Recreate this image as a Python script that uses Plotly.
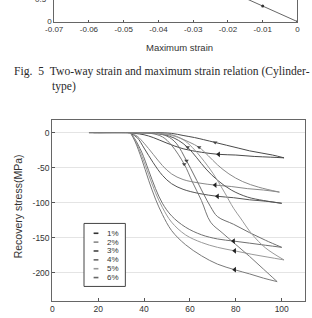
import plotly.graph_objects as go

W, H = 312, 318

# ---------------- data: partial upper figure (Fig. 5) ----------------
top_max_strain = [0.0, -0.01, -0.02, -0.03]
top_two_way = [0.0, 0.36, 0.72, 1.08]
top_xticks = [-0.07, -0.06, -0.05, -0.04, -0.03, -0.02, -0.01, 0.0]
top_xticktext = ["-0.07", "-0.06", "-0.05", "-0.04", "-0.03", "-0.02", "-0.01", "0"]
top_yticks = [0.0]
top_yticktext = ["0"]
top_cut_label = "0.5"

# ---------------- data: recovery stress vs temperature ----------------
strain_labels = ["1%", "2%", "3%", "4%", "5%", "6%"]

heat_T = [
    [16, 30, 45, 52, 57, 62, 66, 71, 76, 81, 86, 91, 96, 101],
    [20, 35, 45, 52, 56, 60, 64, 68, 72, 77, 83, 90, 99],
    [18, 35, 45, 51, 55, 59, 63, 67, 72, 78, 85, 92, 100],
    [18, 35, 45, 50, 54, 58.5, 62, 66, 69, 72, 79, 86, 93, 100],
    [16, 35, 46, 52, 57, 61, 65, 70, 75, 79, 82, 87, 93, 101],
    [16, 35, 43, 48, 52, 57.5, 61, 65, 69, 74, 80, 86, 92, 98],
]
heat_S = [
    [0, 0, 0, -1, -4, -7, -10, -14, -18, -22, -26, -29, -32, -36],
    [0, 0, -1, -3, -8, -14, -21, -33, -46, -59, -70, -78, -85],
    [0, 0, -1, -5, -11, -21, -36, -52, -68, -82, -92, -97, -101],
    [0, 0, -1, -5, -15, -40, -62, -88, -106, -120, -131, -143, -154, -164],
    [0, 0, -1, -4, -10, -21, -36, -58, -85, -108, -122, -145, -165, -182],
    [0, 0, -1, -6, -18, -45, -70, -97, -128, -143, -160, -177, -195, -213],
]
cool_T = [
    [101, 95, 88, 80, 72.5, 65, 57, 50, 44, 40, 36, 33],
    [99, 92, 85, 78, 71, 64, 57, 52, 48, 44, 40, 37, 34],
    [100, 93, 86, 79, 72, 64, 57, 52, 48, 44, 40, 37, 34],
    [100, 93, 86, 79, 72, 65, 58, 52, 48, 45, 42, 39, 36, 34],
    [101, 94, 87, 79.5, 72, 65, 58, 52, 48, 45, 42, 39, 36, 34],
    [98, 92, 86, 79.5, 72, 65, 58, 52, 48, 45, 42, 39, 36, 34],
]
cool_S = [
    [-36, -35, -34, -32, -31, -28, -23, -15, -7, -3, -1, 0],
    [-85, -82, -80, -77, -75, -72, -67, -59, -47, -31, -15, -5, 0],
    [-101, -98, -96, -93, -91, -87, -81, -73, -61, -43, -22, -7, -1],
    [-164, -161, -158, -155, -152, -146, -135, -119, -101, -80, -54, -28, -9, 0],
    [-182, -178, -174, -169, -164, -157, -146, -128, -107, -86, -60, -33, -10, 0],
    [-213, -208, -202, -196, -188, -176, -160, -140, -117, -95, -68, -38, -12, 0],
]
arrow_T = [72.5, 71, 72, 79, 79.5, 79.5]
arrow_S = [-31, -75, -91, -155, -169, -196]
mark_T = [71, 64, 59, 58.5, 57.5]
mark_S = [-14, -21, -21, -40, -45]

x_ticks = [0, 20, 40, 60, 80, 100]
y_ticks = [0, -50, -100, -150, -200]
y_ticktext = ["0", "-50", "-100", "-150", "-200"]

line_colors = ["#4a4a4a", "#8a8a8a", "#555555", "#707070", "#9a9a9a", "#7a7a7a"]
legend_colors = ["#333333", "#888888", "#444444", "#666666", "#999999", "#666666"]


def px(xp):
    return xp / W


def py(yp):
    return 1 - yp / H


SANS = "Liberation Sans, Arial, sans-serif"
SERIF = "Liberation Serif, Times New Roman, serif"

fig = go.Figure()

# upper partial chart
fig.add_trace(go.Scatter(
    x=top_max_strain, y=top_two_way, mode="lines+markers",
    line=dict(color="#666", width=1), marker=dict(size=3, color="#333"),
    xaxis="x2", yaxis="y2", showlegend=False, hoverinfo="skip"))

# main chart curves
for i in range(len(strain_labels)):
    fig.add_trace(go.Scatter(
        x=heat_T[i], y=heat_S[i], mode="lines", line=dict(color=line_colors[i], width=1, shape="spline"),
        showlegend=False, hoverinfo="skip"))
    fig.add_trace(go.Scatter(
        x=cool_T[i], y=cool_S[i], mode="lines", line=dict(color=line_colors[i], width=1, shape="spline"),
        showlegend=False, hoverinfo="skip"))

fig.add_trace(go.Scatter(
    x=arrow_T, y=arrow_S, mode="markers",
    marker=dict(symbol="triangle-left", size=5, color="#222"),
    showlegend=False, hoverinfo="skip"))
fig.add_trace(go.Scatter(
    x=mark_T, y=mark_S, mode="markers",
    marker=dict(symbol="triangle-down", size=4, color="#444"),
    showlegend=False, hoverinfo="skip"))

annotations = []
shapes = []

# half-visible top tick label of the upper chart
annotations.append(dict(
    text=top_cut_label, x=px(42), y=py(-1), xref="paper", yref="paper",
    xanchor="right", yanchor="middle", showarrow=False,
    font=dict(family=SANS, size=8, color="#333")))

# caption of Fig. 5
annotations.append(dict(
    text="Fig.\u00a0\u00a05\u00a0\u00a0Two-way strain and maximum strain relation (Cylinder-",
    x=px(3), y=py(73), xref="paper", yref="paper", xanchor="left", yanchor="middle",
    showarrow=False, font=dict(family=SERIF, size=11.6, color="#2a2a2a")))
annotations.append(dict(
    text="type)", x=px(43), y=py(88), xref="paper", yref="paper", xanchor="left", yanchor="middle",
    showarrow=False, font=dict(family=SERIF, size=11.6, color="#2a2a2a")))
annotations.append(dict(
    text="Maximum strain", x=px(177), y=py(48), xref="paper", yref="paper",
    xanchor="center", yanchor="middle", showarrow=False,
    font=dict(family=SANS, size=9.5, color="#333")))

# y title main
annotations.append(dict(
    text="Recovery stress(MPa)", x=px(9), y=py(210), xref="paper", yref="paper",
    xanchor="center", yanchor="middle", textangle=-90, showarrow=False,
    font=dict(family=SANS, size=10.5, color="#333")))

# manual legend
lx0, lx1, ly0, ly1 = 78, 121, 227, 291
shapes.append(dict(type="rect", xref="paper", yref="paper",
                   x0=px(lx0), x1=px(lx1), y0=py(ly1), y1=py(ly0),
                   line=dict(color="#444", width=1), fillcolor="white", layer="above"))
for i, lab in enumerate(strain_labels):
    yy = 237 + 9 * i
    shapes.append(dict(type="line", xref="paper", yref="paper",
                       x0=px(88), x1=px(93), y0=py(yy), y1=py(yy),
                       line=dict(color=legend_colors[i], width=1.6), layer="above"))
    annotations.append(dict(
        text=lab, x=px(100), y=py(yy), xref="paper", yref="paper",
        xanchor="left", yanchor="middle", showarrow=False,
        font=dict(family=SANS, size=8, color="#333")))

fig.update_layout(
    width=W, height=H, margin=dict(l=0, r=0, t=0, b=0),
    paper_bgcolor="white", plot_bgcolor="white",
    showlegend=False,
    xaxis=dict(domain=[px(45), px(307.5)], range=[0, 110], tickvals=x_ticks,
               ticks="inside", ticklen=3, tickcolor="#555", showgrid=False, zeroline=False,
               showline=True, linecolor="#666", linewidth=1, mirror=True,
               tickfont=dict(family=SANS, size=8.5, color="#333"), anchor="y"),
    yaxis=dict(domain=[py(306), py(122)], range=[-241, 18], tickvals=y_ticks, ticktext=y_ticktext,
               ticks="inside", ticklen=3, tickcolor="#555", showgrid=True, gridcolor="#e4e4e4",
               zeroline=False, showline=True, linecolor="#666", linewidth=1, mirror=True,
               tickfont=dict(family=SANS, size=8.5, color="#333"), anchor="x"),
    xaxis2=dict(domain=[px(47), px(300)], range=[-0.07, 0], tickvals=top_xticks, ticktext=top_xticktext,
                ticks="inside", ticklen=2, tickcolor="#555", showgrid=False, zeroline=False,
                showline=True, linecolor="#666", linewidth=1, mirror=False,
                tickfont=dict(family=SANS, size=8, color="#333"), anchor="y2"),
    yaxis2=dict(domain=[py(22), 1], range=[0, 0.5], tickvals=top_yticks, ticktext=top_yticktext,
                ticks="", showgrid=False, zeroline=False,
                showline=True, linecolor="#666", linewidth=1, mirror=True,
                tickfont=dict(family=SANS, size=8, color="#333"), anchor="x2"),
    annotations=annotations, shapes=shapes,
)

fig.write_html("out.html")
